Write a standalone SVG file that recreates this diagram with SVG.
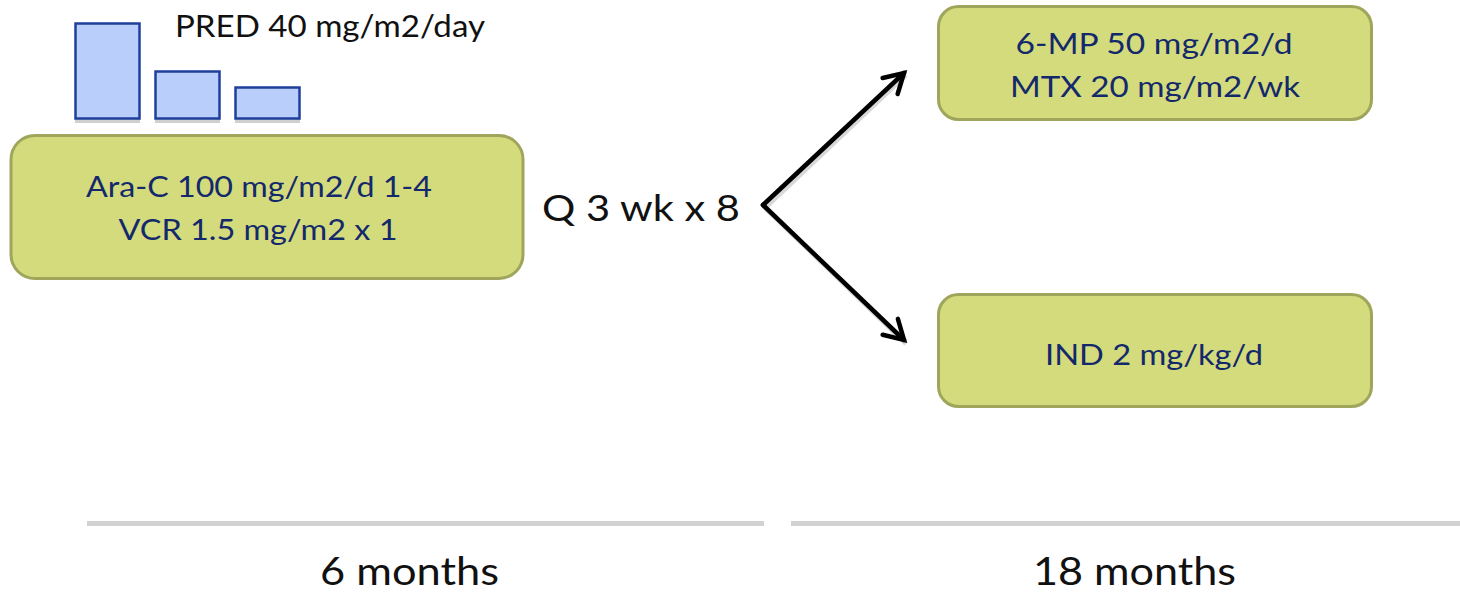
<svg xmlns="http://www.w3.org/2000/svg" width="1460" height="599" viewBox="0 0 1460 599">
  <style>
    .box { fill: #d4db7c; stroke: #9fa55b; stroke-width: 3; }
    .dose { font-family: Lato, "Liberation Sans", sans-serif; fill: #13296b; text-anchor: middle; }
    .label { font-family: Lato, "Liberation Sans", sans-serif; fill: #111111; }
    .bar { fill: #b9cefa; stroke: #1f3f9c; stroke-width: 2.5; }
    .barshadow { fill: #cfcfcf; }
    .arrow { stroke: #000000; stroke-width: 4.5; fill: none; stroke-linecap: round; }
    .arrowshadow { stroke: #c8c8c8; stroke-width: 4.5; fill: none; opacity: 0.7; }
    .timeline { fill: #d2d2d2; }
  </style>
  <defs>
    <marker id="openHead" markerUnits="userSpaceOnUse" markerWidth="40" markerHeight="40" refX="0" refY="0" viewBox="-30 -20 40 40" orient="auto">
      <path d="M -19 -11 L 0 0 L -19 11" fill="none" stroke="#000000" stroke-width="4.5" stroke-linecap="round" stroke-linejoin="miter"/>
    </marker>
  </defs>

  <!-- prednisone taper bars -->
  <g id="pred-taper">
    <rect class="barshadow" x="75" y="119" width="65" height="4"/>
    <rect class="barshadow" x="155" y="119" width="65" height="4"/>
    <rect class="barshadow" x="235" y="119" width="65" height="4"/>
    <rect class="bar" x="75.5" y="23.5" width="64" height="95"/>
    <rect class="bar" x="155.5" y="71.5" width="64" height="47"/>
    <rect class="bar" x="235.5" y="87.5" width="64" height="31"/>
    <text class="label" x="175" y="37" font-size="31" textLength="310" lengthAdjust="spacingAndGlyphs">PRED 40 mg/m2/day</text>
  </g>

  <!-- induction / reinforcement block -->
  <g id="induction">
    <rect class="box" x="11" y="135.5" width="512" height="143" rx="24"/>
    <text class="dose" x="259" y="197" font-size="29.5" textLength="346" lengthAdjust="spacingAndGlyphs">Ara-C 100 mg/m2/d 1-4</text>
    <text class="dose" x="258" y="240" font-size="29.5" textLength="279" lengthAdjust="spacingAndGlyphs">VCR 1.5 mg/m2 x 1</text>
  </g>

  <g id="cycle-label">
    <text class="label" x="542" y="221" font-size="37" textLength="198" lengthAdjust="spacingAndGlyphs">Q 3 wk x 8</text>
  </g>

  <!-- maintenance arms -->
  <g id="arm-mp-mtx">
    <rect class="box" x="938.5" y="6.5" width="433" height="113" rx="20"/>
    <text class="dose" x="1154" y="54" font-size="29.5" textLength="277" lengthAdjust="spacingAndGlyphs">6-MP 50 mg/m2/d</text>
    <text class="dose" x="1155" y="97" font-size="29.5" textLength="290" lengthAdjust="spacingAndGlyphs">MTX 20 mg/m2/wk</text>
  </g>

  <g id="arm-ind">
    <rect class="box" x="938.5" y="294.5" width="433" height="112" rx="20"/>
    <text class="dose" x="1154" y="365" font-size="29.5" textLength="218" lengthAdjust="spacingAndGlyphs">IND 2 mg/kg/d</text>
  </g>

  <!-- randomisation connectors -->
  <g id="connectors">
    <path class="arrowshadow" d="M 906 75 L 765 208 L 906 344"/>
    <line class="arrow" x1="763" y1="205" x2="904" y2="73" marker-end="url(#openHead)"/>
    <line class="arrow" x1="763" y1="205" x2="904" y2="340" marker-end="url(#openHead)"/>
  </g>

  <!-- time axis -->
  <g id="timeline-6m">
    <rect class="timeline" x="87" y="521" width="677" height="5"/>
    <text class="label" x="320" y="585" font-size="39" textLength="179" lengthAdjust="spacingAndGlyphs">6 months</text>
  </g>
  <g id="timeline-18m">
    <rect class="timeline" x="791" y="521" width="669" height="5"/>
    <text class="label" x="1033" y="585" font-size="39" textLength="203" lengthAdjust="spacingAndGlyphs">18 months</text>
  </g>
</svg>
